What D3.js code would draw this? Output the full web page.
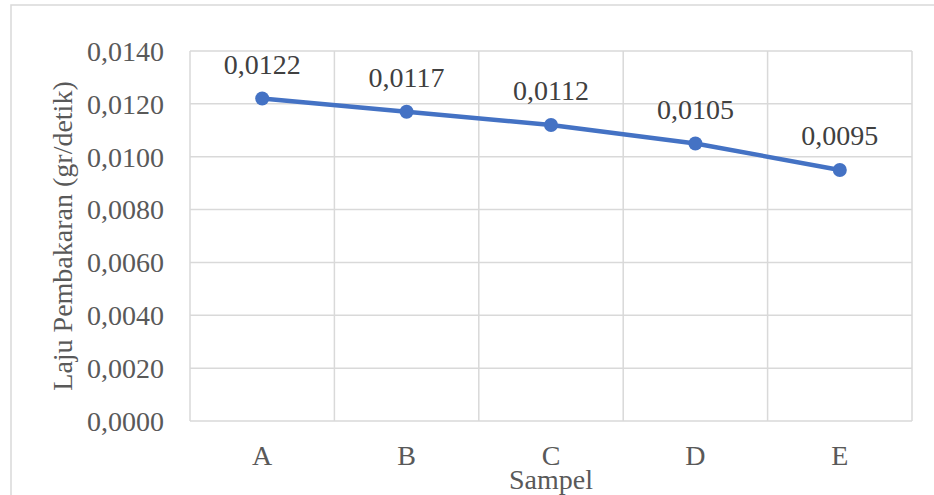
<!DOCTYPE html>
<html><head><meta charset="utf-8">
<script src="https://cdn.jsdelivr.net/npm/d3@7"></script>
<style>body{margin:0;background:#fff}svg{display:block}</style>
</head><body>
<script>
const categories = ["A","B","C","D","E"];
const values = [0.0122,0.0117,0.0112,0.0105,0.0095];
const labels = ["0,0122","0,0117","0,0112","0,0105","0,0095"];
const yTicks = [0,0.002,0.004,0.006,0.008,0.010,0.012,0.014];
const yTitle = "Laju Pembakaran (gr/detik)";
const xTitle = "Sampel";

const W=934,H=495;
const FONT="'Liberation Serif', 'DejaVu Serif', 'Times New Roman', serif";
const m={l:190,t:51,r:912,b:421};
const svg=d3.select("body").append("svg").attr("width",W).attr("height",H)
 .attr("font-family",FONT).attr("fill","#595959");
svg.append("rect").attr("x",11).attr("y",5).attr("width",W).attr("height",H).attr("fill","#fff").attr("stroke","#d9d9d9").attr("stroke-width",1.5);

const x=d3.scaleBand().domain(categories).range([m.l,m.r]);
const y=d3.scaleLinear().domain([0,0.014]).range([m.b,m.t]);
const fmt=d=>d3.format(".4f")(d).replace(".",",");

const g=svg.append("g");
g.selectAll(".hg").data(yTicks).join("line").attr("x1",m.l).attr("x2",m.r)
 .attr("y1",d=>y(d)).attr("y2",d=>y(d)).attr("stroke","#d9d9d9").attr("stroke-width",1.5);
const bounds=categories.map(c=>x(c)).concat([m.r]);
g.selectAll(".vg").data(bounds).join("line").attr("x1",d=>d).attr("x2",d=>d)
 .attr("y1",m.t).attr("y2",m.b).attr("stroke","#d9d9d9").attr("stroke-width",1.5);

svg.selectAll(".yt").data(yTicks).join("text").attr("x",164).attr("y",d=>y(d)).attr("dy","0.35em")
 .attr("font-family",FONT).attr("fill","#595959")
 .attr("text-anchor","end").attr("font-size",28).text(fmt);
svg.selectAll(".xt").data(categories).join("text").attr("x",d=>x(d)+x.bandwidth()/2).attr("y",465)
 .attr("font-family",FONT).attr("fill","#595959")
 .attr("text-anchor","middle").attr("font-size",28).text(d=>d);

svg.append("text").attr("transform","translate(72,236) rotate(-90)").attr("text-anchor","middle")
 .attr("font-family",FONT).attr("fill","#595959").attr("font-size",28).text(yTitle);
svg.append("text").attr("x",551).attr("y",489).attr("text-anchor","middle")
 .attr("font-family",FONT).attr("fill","#595959").attr("font-size",28).text(xTitle);

const cx=(d,i)=>x(categories[i])+x.bandwidth()/2;
svg.append("path").datum(values).attr("fill","none").attr("stroke","#4472C4").attr("stroke-width",4.5)
 .attr("stroke-linejoin","round").attr("d",d3.line().x(cx).y(d=>y(d)));
svg.selectAll(".pt").data(values).join("circle").attr("cx",cx).attr("cy",d=>y(d)).attr("r",7).attr("fill","#4472C4");
svg.selectAll(".dl").data(values).join("text").attr("x",cx).attr("y",d=>y(d)-25)
 .attr("font-family",FONT).attr("fill","#404040")
 .attr("text-anchor","middle").attr("font-size",28).text((d,i)=>labels[i]);
</script>
</body></html>
